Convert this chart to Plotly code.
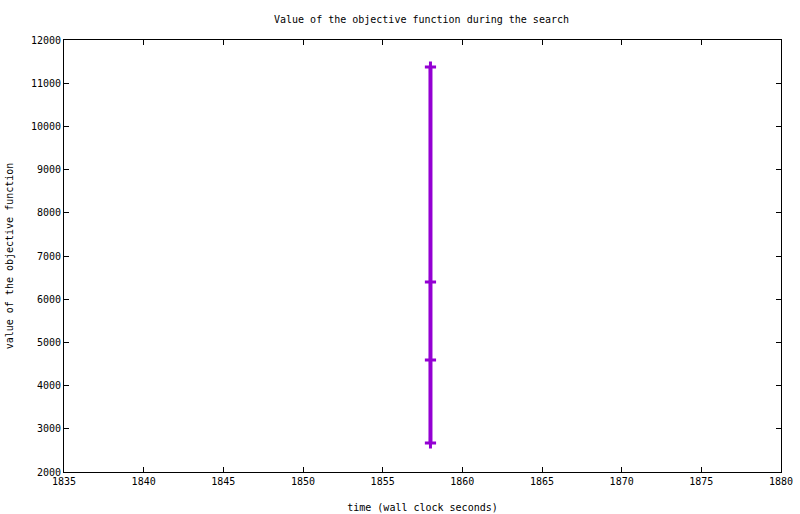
import plotly.graph_objects as go

time_s = [1858, 1858, 1858, 1858]
objective = [11375, 6398, 4593, 2671]

x_ticks = [1835, 1840, 1845, 1850, 1855, 1860, 1865, 1870, 1875, 1880]
y_ticks = [2000, 3000, 4000, 5000, 6000, 7000, 8000, 9000, 10000, 11000, 12000]

color = "#9400D3"
font = dict(family="DejaVu Sans Mono", size=10, color="black")

W, H = 800, 514

fig = go.Figure()
fig.add_trace(go.Scatter(
    x=time_s, y=objective, mode="lines+markers",
    line=dict(color=color, width=4),
    marker=dict(symbol="cross-thin", size=8, line=dict(color=color, width=3)),
    showlegend=False,
))

axis_common = dict(
    showgrid=False, zeroline=False, showline=True, linecolor="black", linewidth=1,
    mirror="allticks", ticks="inside", ticklen=5, tickcolor="black", tickfont=font,
    automargin=False, ticklabeloverflow="allow",
)

fig.update_layout(
    width=W, height=H,
    margin=dict(l=64, r=19, t=40, b=42),
    plot_bgcolor="white", paper_bgcolor="white",
    font=font,
    title=dict(text="Value of the objective function during the search", x=421.5 / W, xanchor="center",
               y=1 - 19 / H, yanchor="middle", font=font),
    xaxis=dict(range=[1835, 1880], tickvals=x_ticks, ticktext=[str(v) for v in x_ticks],
               title=dict(text="time (wall clock seconds)", font=font, standoff=17), **axis_common),
    yaxis=dict(range=[2000, 12000], tickvals=y_ticks, ticktext=[str(v) for v in y_ticks],
               title=dict(text="value of the objective function", font=font, standoff=15), **axis_common),
)

fig.write_html("out.html", config={"displayModeBar": False},
               post_script="document.body.style.margin='0';document.body.style.padding='0';")
